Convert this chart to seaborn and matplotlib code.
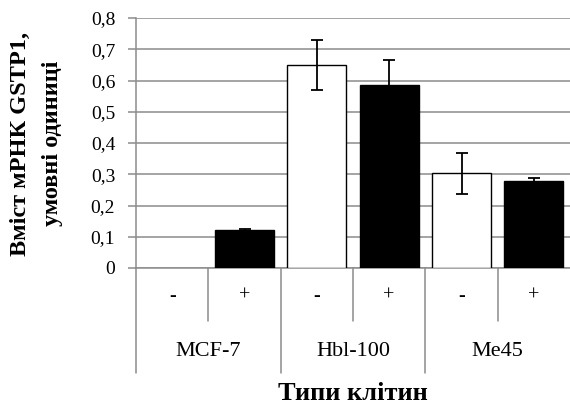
import numpy as np
import pandas as pd
import matplotlib
matplotlib.use("Agg")
import matplotlib.pyplot as plt
import matplotlib.transforms as mtransforms
from matplotlib.ticker import FuncFormatter
import seaborn as sns

# ---- data ----
cell_lines = ["MCF-7", "Hbl-100", "Me45"]
treatments = ["-", "+"]
values_minus = [0.0, 0.65, 0.303]
values_plus = [0.121, 0.587, 0.279]
err_minus = [0.0, 0.079, 0.065]
err_plus = [0.005, 0.078, 0.009]
y_ticks = [0, 0.1, 0.2, 0.3, 0.4, 0.5, 0.6, 0.7, 0.8]
x_title = "Типи клітин"
y_title_1 = "Вміст мРНК GSTP1,"
y_title_2 = "умовні одиниці"

rows = []
for i, cl in enumerate(cell_lines):
    rows.append({"cell": cl, "treat": "-", "slot": f"{cl} -", "value": values_minus[i], "err": err_minus[i]})
    rows.append({"cell": cl, "treat": "+", "slot": f"{cl} +", "value": values_plus[i], "err": err_plus[i]})
df = pd.DataFrame(rows)
slot_order = list(df["slot"])

sns.set_theme(style="white")
plt.rcParams["font.family"] = ["Liberation Serif", "DejaVu Serif"]

fig = plt.figure(figsize=(5.70, 4.04), dpi=100)
ax = fig.add_axes([136 / 570, 1 - 268 / 404, 434 / 570, 250 / 404])

sns.barplot(data=df, x="slot", y="value", hue="treat", order=slot_order,
            palette={"-": "white", "+": "black"}, dodge=False, width=0.82,
            edgecolor="black", linewidth=1.0, errorbar=None, legend=False,
            ax=ax, zorder=3)
for p in ax.patches:
    if p.get_height() == 0:
        p.set_linewidth(0)

xpos = np.arange(len(slot_order))
mask = df["err"].values > 0
ax.errorbar(xpos[mask], df["value"].values[mask], yerr=df["err"].values[mask],
            fmt="none", ecolor="black", elinewidth=1.3, capsize=4.5,
            capthick=1.3, zorder=4)

grid_c = "#8c8c8c"
ax.set_xlim(-0.5, len(slot_order) - 0.5)
ax.set_ylim(0, 0.8)
ax.set_yticks(y_ticks)
ax.yaxis.set_major_formatter(FuncFormatter(
    lambda v, _: "0" if abs(v) < 1e-9 else f"{v:.1f}".replace(".", ",")))
ax.yaxis.grid(True, color=grid_c, linewidth=1.1)
ax.set_axisbelow(True)
for s in ["top", "right"]:
    ax.spines[s].set_visible(False)
for s in ["left", "bottom"]:
    ax.spines[s].set_color(grid_c)
    ax.spines[s].set_linewidth(1.1)
ax.tick_params(axis="y", length=6, width=1.1, color=grid_c, pad=9,
               labelsize=14, labelcolor="black", left=True)
ax.tick_params(axis="x", length=0, labelbottom=False)
ax.set_xlabel("")
ax.set_ylabel("")

trans = mtransforms.blended_transform_factory(ax.transData, ax.transAxes)
# separators
for k in range(len(slot_order)):
    xb = k - 0.5
    ybot = -0.42 if k % 2 == 0 else -0.212
    ax.plot([xb, xb], [0, ybot], transform=trans, color=grid_c, lw=1.1,
            clip_on=False)
for k, s in enumerate(slot_order):
    ax.text(k, -0.114, df["treat"].iloc[k], transform=trans, ha="center",
            va="center", fontsize=14.5, color="black")
for i, cl in enumerate(cell_lines):
    ax.text(2 * i + 0.5, -0.336, cl, transform=trans, ha="center",
            va="center", fontsize=16, color="black")
ax.text(0.5, -0.5, x_title, transform=ax.transAxes, ha="center", va="center",
        fontsize=19, fontweight="bold", color="black")

fig.text(20 / 570, 1 - 144 / 404, y_title_1, rotation=90, ha="center",
         va="center", fontsize=17.5, fontweight="bold", color="black")
fig.text(53 / 570, 1 - 143 / 404, y_title_2, rotation=90, ha="center",
         va="center", fontsize=17.5, fontweight="bold", color="black")

fig.savefig("out.png", dpi=100)
